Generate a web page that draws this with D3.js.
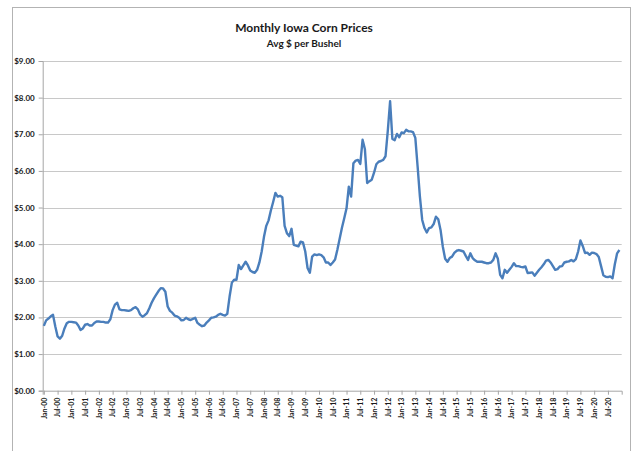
<!DOCTYPE html>
<html>
<head>
<meta charset="utf-8">
<script src="https://cdn.jsdelivr.net/npm/d3@7"></script>
<style>
  body { margin: 0; background: #fff; }
  text { font-family: Lato, "Open Sans", sans-serif; fill: #1a1a1a; }
</style>
</head>
<body>
<div id="chart"></div>
<script>
// Monthly prices, one array per year ($ per bushel)
const p2000 = [ 1.77, 1.92, 1.97, 2.03, 2.07, 1.75, 1.48, 1.42, 1.50, 1.70, 1.84, 1.88 ];
const p2001 = [ 1.88, 1.87, 1.86, 1.78, 1.66, 1.70, 1.80, 1.82, 1.78, 1.78, 1.85, 1.89 ];
const p2002 = [ 1.89, 1.88, 1.88, 1.86, 1.86, 1.95, 2.20, 2.35, 2.40, 2.22, 2.20, 2.20 ];
const p2003 = [ 2.19, 2.18, 2.20, 2.25, 2.28, 2.22, 2.08, 2.02, 2.06, 2.12, 2.25, 2.40 ];
const p2004 = [ 2.52, 2.62, 2.72, 2.80, 2.79, 2.70, 2.30, 2.18, 2.13, 2.05, 2.03, 1.99 ];
const p2005 = [ 1.92, 1.93, 1.99, 1.95, 1.93, 1.96, 1.99, 1.85, 1.80, 1.76, 1.78, 1.86 ];
const p2006 = [ 1.92, 1.99, 2.00, 2.02, 2.07, 2.10, 2.07, 2.05, 2.10, 2.57, 2.95, 3.03 ];
const p2007 = [ 3.03, 3.43, 3.32, 3.42, 3.52, 3.42, 3.28, 3.24, 3.22, 3.30, 3.50, 3.80 ];
const p2008 = [ 4.20, 4.50, 4.65, 4.92, 5.15, 5.40, 5.30, 5.32, 5.28, 4.50, 4.30, 4.22 ];
const p2009 = [ 4.42, 3.98, 3.96, 3.94, 4.07, 4.05, 3.80, 3.35, 3.22, 3.66, 3.72, 3.70 ];
const p2010 = [ 3.72, 3.70, 3.64, 3.50, 3.50, 3.43, 3.50, 3.58, 3.85, 4.15, 4.45, 4.71 ];
const p2011 = [ 4.98, 5.57, 5.30, 6.21, 6.28, 6.30, 6.19, 6.85, 6.60, 5.67, 5.72, 5.76 ];
const p2012 = [ 5.95, 6.18, 6.25, 6.27, 6.30, 6.40, 7.10, 7.90, 6.87, 6.84, 7.01, 6.92 ];
const p2013 = [ 7.05, 7.03, 7.12, 7.08, 7.08, 7.06, 6.90, 6.12, 5.30, 4.66, 4.44, 4.32 ];
const p2014 = [ 4.44, 4.46, 4.55, 4.75, 4.68, 4.39, 3.93, 3.60, 3.52, 3.62, 3.66, 3.76 ];
const p2015 = [ 3.82, 3.84, 3.82, 3.80, 3.68, 3.57, 3.75, 3.62, 3.56, 3.52, 3.52, 3.52 ];
const p2016 = [ 3.50, 3.48, 3.48, 3.50, 3.57, 3.75, 3.60, 3.16, 3.07, 3.30, 3.22, 3.30 ];
const p2017 = [ 3.38, 3.48, 3.40, 3.40, 3.38, 3.37, 3.39, 3.21, 3.22, 3.23, 3.14, 3.22 ];
const p2018 = [ 3.30, 3.37, 3.45, 3.55, 3.57, 3.50, 3.40, 3.30, 3.32, 3.39, 3.40, 3.50 ];
const p2019 = [ 3.52, 3.53, 3.57, 3.53, 3.59, 3.80, 4.10, 3.95, 3.76, 3.77, 3.71, 3.77 ];
const p2020 = [ 3.76, 3.73, 3.65, 3.40, 3.15, 3.11, 3.10, 3.12, 3.07, 3.45, 3.75, 3.84 ];

const years = [ 2000, 2001, 2002, 2003, 2004, 2005, 2006, 2007, 2008, 2009, 2010,
                2011, 2012, 2013, 2014, 2015, 2016, 2017, 2018, 2019, 2020 ];
const monthNames = [ "Jan", "Feb", "Mar", "Apr", "May", "Jun", "Jul", "Aug", "Sep", "Oct", "Nov", "Dec" ];
const yTicks = [ 0, 1, 2, 3, 4, 5, 6, 7, 8, 9 ];
const labelEvery = 6;

const prices = [].concat( p2000, p2001, p2002, p2003, p2004, p2005, p2006, p2007, p2008, p2009, p2010,
                          p2011, p2012, p2013, p2014, p2015, p2016, p2017, p2018, p2019, p2020 );

// category names like "Jan-00"
const categories = [];
years.forEach( yr => monthNames.forEach( m => categories.push( m + "-" + String( yr ).slice( 2 ) ) ) );

const W = 633, H = 451;
const plotL = 42.7, plotR = 621.7, plotT = 61, plotB = 390.7;

const svg = d3.select( "#chart" )
  .append( "svg" )
  .attr( "width", W )
  .attr( "height", H );

// chart frame
svg.append( "rect" )
  .attr( "x", 12.5 ).attr( "y", 7.5 )
  .attr( "width", 618 ).attr( "height", 460 )
  .attr( "fill", "none" )
  .attr( "stroke", "#b3b3b3" );

const x = d3.scaleLinear().domain( [ -0.5, prices.length ] ).range( [ plotL, plotR ] );
const y = d3.scaleLinear().domain( [ 0, 9 ] ).range( [ plotB, plotT ] );

// grid lines
svg.append( "g" )
  .selectAll( "line" )
  .data( yTicks.filter( d => d > 0 ) )
  .enter()
  .append( "line" )
    .attr( "x1", plotL ).attr( "x2", plotR )
    .attr( "y1", d => Math.round( y( d ) ) + 0.5 )
    .attr( "y2", d => Math.round( y( d ) ) + 0.5 )
    .attr( "stroke", "#c8c8c8" )
    .attr( "stroke-width", 1 );

// y axis
const yAxis = svg.append( "g" )
  .attr( "transform", `translate(${ plotL },0)` )
  .call( d3.axisLeft( y ).tickValues( yTicks ).tickSize( 4 ).tickPadding( 4 )
    .tickFormat( d => "$" + d3.format( ".2f" )( d ) ) );
yAxis.select( ".domain" ).attr( "stroke", "#a6a6a6" );
yAxis.selectAll( ".tick line" ).attr( "stroke", "#a6a6a6" );
yAxis.selectAll( "text" )
  .attr( "font-size", 8 )
  .attr( "font-weight", "bold" )
  .attr( "fill", "#1a1a1a" )
  .attr( "font-family", "Lato, sans-serif" );

// x axis
const tickIdx = d3.range( 0, prices.length, labelEvery );
const xAxis = svg.append( "g" )
  .attr( "transform", `translate(0,${ plotB })` )
  .call( d3.axisBottom( x ).tickValues( tickIdx ).tickSize( 4 ).tickPadding( 3 )
    .tickFormat( i => categories[ i ] ) );
xAxis.select( ".domain" ).attr( "stroke", "#a6a6a6" );
xAxis.selectAll( ".tick line" ).attr( "stroke", "#a6a6a6" );
xAxis.selectAll( "text" )
  .attr( "font-size", 7 )
  .attr( "font-weight", "bold" )
  .attr( "fill", "#1a1a1a" )
  .attr( "font-family", "Lato, sans-serif" )
  .attr( "text-anchor", "end" )
  .attr( "dy", "0.32em" )
  .attr( "transform", "translate(0,4) rotate(-90)" )
  .attr( "y", 0 )
  .attr( "x", -3 );

// price line
const line = d3.line()
  .x( ( d, i ) => x( i ) )
  .y( d => y( d ) );

svg.append( "path" )
  .datum( prices )
  .attr( "d", line )
  .attr( "fill", "none" )
  .attr( "stroke", "#4a7ebb" )
  .attr( "stroke-width", 2.4 )
  .attr( "stroke-linejoin", "round" );

// titles
svg.append( "text" )
  .attr( "x", 304 ).attr( "y", 32 )
  .attr( "text-anchor", "middle" )
  .attr( "font-size", 12 )
  .attr( "font-weight", "bold" )
  .text( "Monthly Iowa Corn Prices" );

svg.append( "text" )
  .attr( "x", 304 ).attr( "y", 47 )
  .attr( "text-anchor", "middle" )
  .attr( "font-size", 10 )
  .attr( "font-weight", "bold" )
  .text( "Avg $ per Bushel" );
</script>
</body>
</html>
